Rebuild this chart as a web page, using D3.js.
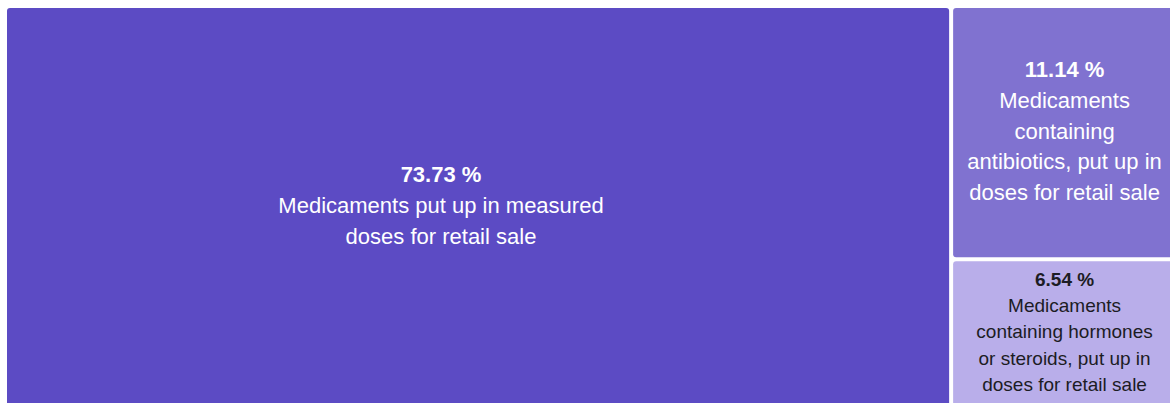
<!DOCTYPE html>
<html>
<head>
<meta charset="utf-8">
<script src="https://cdn.jsdelivr.net/npm/d3@7"></script>
<style>
  html, body { margin: 0; padding: 0; background: #ffffff; overflow: hidden; }
  svg { display: block; }
</style>
</head>
<body>
<svg id="chart" width="1170" height="403"></svg>
<script>
// Product categories and their share of the total (%)
const categories = [
  "Medicaments put up in measured doses for retail sale",
  "Medicaments containing antibiotics, put up in doses for retail sale",
  "Medicaments containing hormones or steroids, put up in doses for retail sale"
];
const shares = [73.73, 11.14, 6.54];
const tileColors = ["#5c4bc4", "#8072d0", "#b9aeea"];
const labelColors = ["#ffffff", "#ffffff", "#1c1c24"];

const offset = { left: 7, top: 8 };
const layoutW = 1169, layoutH = 398;
const gap = 4;
const labelBoxMax = 868;   // widest area a label is centred in
const wrapMax = 360;       // longest line before wrapping
const sidePad = 13;

const svg = d3.select("#chart");
const fontFamily = "'Liberation Sans', Arial, Helvetica, sans-serif";

const rows = categories.map((name, i) => ({ name, value: shares[i], idx: i }));
const root = d3.hierarchy({ children: rows })
  .sum(d => d.value || 0)
  .sort((a, b) => b.value - a.value);

d3.treemap()
  .tile(d3.treemapSquarify)
  .size([layoutW, layoutH])
  .paddingInner(gap)(root);

const g = svg.append("g").attr("transform", `translate(${offset.left},${offset.top})`);

const leaf = g.selectAll("g.tile")
  .data(root.leaves())
  .join("g")
  .attr("class", "tile");

leaf.append("rect")
  .attr("x", d => d.x0)
  .attr("y", d => d.y0)
  .attr("width", d => d.x1 - d.x0)
  .attr("height", d => d.y1 - d.y0)
  .attr("rx", 3)
  .attr("fill", d => tileColors[d.data.idx]);

// measuring helper for word wrapping
const probe = svg.append("text").attr("font-family", fontFamily).attr("visibility", "hidden");
function measure(str, size, weight) {
  probe.attr("font-size", size).attr("font-weight", weight).text(str);
  return probe.node().getComputedTextLength();
}
function wrap(str, size, maxW) {
  const words = str.split(/\s+/);
  const lines = [];
  let cur = "";
  for (const w of words) {
    const test = cur ? cur + " " + w : w;
    if (cur && measure(test, size, "normal") > maxW) {
      lines.push(cur);
      cur = w;
    } else {
      cur = test;
    }
  }
  if (cur) lines.push(cur);
  return lines;
}

leaf.each(function(d) {
  const w = d.x1 - d.x0, h = d.y1 - d.y0;
  const size = h > 200 ? 22 : 19;
  const lh = size * (size > 20 ? 1.4 : 1.37);
  const lines = wrap(d.data.name, size, Math.min(w - 2 * sidePad, wrapMax));
  const all = [{ t: d3.format(".2f")(d.data.value) + " %", bold: true }]
    .concat(lines.map(t => ({ t, bold: false })));
  const cx = d.x0 + Math.min(w, labelBoxMax) / 2;
  const cy = d.y0 + h / 2 - 2;
  const n = all.length;
  const text = d3.select(this).append("text")
    .attr("font-family", fontFamily)
    .attr("font-size", size)
    .attr("text-anchor", "middle")
    .attr("fill", labelColors[d.data.idx]);
  all.forEach((ln, i) => {
    text.append("tspan")
      .attr("x", cx)
      .attr("y", cy + (i - (n - 1) / 2) * lh)
      .attr("dy", "0.36em")
      .attr("font-weight", ln.bold ? "bold" : "normal")
      .text(ln.t);
  });
});
probe.remove();
</script>
</body>
</html>
